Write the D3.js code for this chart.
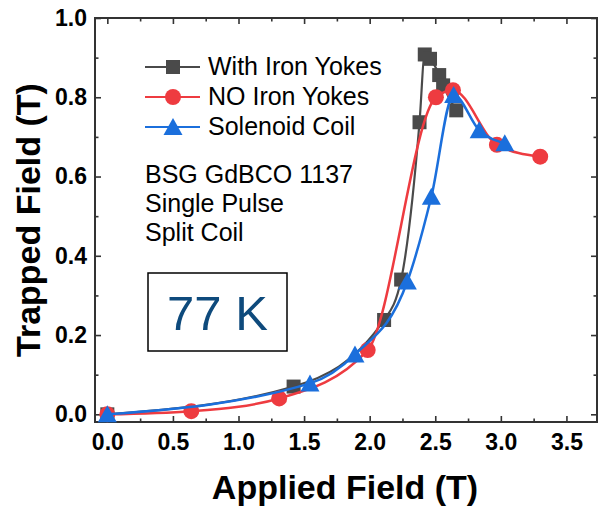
<!DOCTYPE html>
<html>
<head>
<meta charset="utf-8">
<script src="https://cdn.jsdelivr.net/npm/d3@7"></script>
<style>
  body { margin: 0; background: #fff; }
  svg { display: block; font-family: "Liberation Sans", Arial, sans-serif; }
</style>
</head>
<body>
<script>
// data
var withX = [0, 1.42, 2.11, 2.24, 2.38, 2.42, 2.46, 2.53, 2.56, 2.66];
var withY = [0, 0.07, 0.238, 0.34, 0.737, 0.908, 0.897, 0.856, 0.83, 0.767];

var noX = [0, 0.64, 1.31, 1.985, 2.505, 2.635, 2.97, 3.30];
var noY = [0, 0.008, 0.04, 0.162, 0.80, 0.818, 0.68, 0.65];

var solX = [0, 1.545, 1.888, 2.287, 2.47, 2.64, 2.835, 3.03];
var solY = [0, 0.078, 0.151, 0.335, 0.549, 0.806, 0.717, 0.684];

var seriesNames = ["With Iron Yokes", "NO Iron Yokes", "Solenoid Coil"];
var seriesColors = ["#4a4a4a", "#ee3b40", "#1b6fdc"];
var notes = ["BSG GdBCO 1137", "Single Pulse", "Split Coil"];

var xTicks = [0, 0.5, 1.0, 1.5, 2.0, 2.5, 3.0, 3.5];
var xMinor = [0.25, 0.75, 1.25, 1.75, 2.25, 2.75, 3.25];
var yTicks = [0, 0.2, 0.4, 0.6, 0.8, 1.0];
var yMinor = [0.1, 0.3, 0.5, 0.7, 0.9];

var W = 599, H = 508;
var pL = 95, pR = 597, pT = 18, pB = 422;
var FONT = '"Liberation Sans", Arial, sans-serif';

var svg = d3.select("body").append("svg")
  .attr("width", W)
  .attr("height", H);

var x = d3.scaleLinear().domain([-0.094, 3.733]).range([pL, pR]);
var y = d3.scaleLinear().domain([-0.0194, 1.0]).range([pB, pT]);

// axes, ticks point inward
function styleAxis(g) {
  g.select(".domain").remove();
  g.attr("font-family", FONT);
  g.selectAll(".tick line").attr("stroke", "#333").attr("stroke-width", 1.6);
  g.selectAll(".tick text")
    .attr("fill", "#000")
    .style("font-family", FONT)
    .style("font-size", "23px")
    .style("font-weight", "bold");
}

svg.append("g").attr("transform", "translate(0," + pB + ")")
  .call(d3.axisBottom(x).tickValues(xTicks).tickFormat(d3.format(".1f"))
    .tickSize(-6).tickPadding(12).tickSizeOuter(0))
  .call(styleAxis);
svg.append("g").attr("transform", "translate(0," + pB + ")")
  .call(d3.axisBottom(x).tickValues(xMinor).tickFormat("").tickSize(-3.5).tickSizeOuter(0))
  .call(styleAxis);
svg.append("g").attr("transform", "translate(0," + pT + ")")
  .call(d3.axisTop(x).tickValues(xTicks).tickFormat("").tickSize(-6).tickSizeOuter(0))
  .call(styleAxis);
svg.append("g").attr("transform", "translate(0," + pT + ")")
  .call(d3.axisTop(x).tickValues(xMinor).tickFormat("").tickSize(-3.5).tickSizeOuter(0))
  .call(styleAxis);

svg.append("g").attr("transform", "translate(" + pL + ",0)")
  .call(d3.axisLeft(y).tickValues(yTicks).tickFormat(d3.format(".1f"))
    .tickSize(-6).tickPadding(8).tickSizeOuter(0))
  .call(styleAxis);
svg.append("g").attr("transform", "translate(" + pL + ",0)")
  .call(d3.axisLeft(y).tickValues(yMinor).tickFormat("").tickSize(-3.5).tickSizeOuter(0))
  .call(styleAxis);
svg.append("g").attr("transform", "translate(" + pR + ",0)")
  .call(d3.axisRight(y).tickValues(yTicks).tickFormat("").tickSize(-6).tickSizeOuter(0))
  .call(styleAxis);
svg.append("g").attr("transform", "translate(" + pR + ",0)")
  .call(d3.axisRight(y).tickValues(yMinor).tickFormat("").tickSize(-3.5).tickSizeOuter(0))
  .call(styleAxis);

// frame
svg.append("rect")
  .attr("x", pL).attr("y", pT)
  .attr("width", pR - pL).attr("height", pB - pT)
  .attr("fill", "none").attr("stroke", "#333").attr("stroke-width", 2);

// axis titles
svg.append("text")
  .attr("x", (pL + pR) / 2 - 1).attr("y", 499)
  .attr("text-anchor", "middle")
  .style("font-size", "34px").style("font-weight", "bold")
  .text("Applied Field (T)");

svg.append("text")
  .attr("transform", "translate(40," + ((pT + pB) / 2) + ") rotate(-90)")
  .attr("text-anchor", "middle")
  .style("font-size", "34px").style("font-weight", "bold")
  .text("Trapped Field (T)");

// markers
function drawMarker(g, kind, color) {
  if (kind === 0) {
    g.append("rect").attr("x", -7).attr("y", -7).attr("width", 14).attr("height", 14)
      .attr("fill", color);
  } else if (kind === 1) {
    g.append("circle").attr("r", 8).attr("fill", color);
  } else {
    g.append("path").attr("d", "M0,-9L9.5,8L-9.5,8Z").attr("fill", color);
  }
}

var line = d3.line()
  .x(function(d) { return x(d[0]); })
  .y(function(d) { return y(d[1]); })
  .curve(d3.curveMonotoneX);

var allSeries = [
  d3.zip(withX, withY),
  d3.zip(noX, noY),
  d3.zip(solX, solY)
];

allSeries.forEach(function(pts, k) {
  var g = svg.append("g");
  g.append("path")
    .datum(pts)
    .attr("d", line)
    .attr("fill", "none")
    .attr("stroke", seriesColors[k])
    .attr("stroke-width", k === 0 ? 2.2 : 2.5);
  g.selectAll("g.pt")
    .data(pts)
    .enter().append("g")
    .attr("class", "pt")
    .attr("transform", function(d) { return "translate(" + x(d[0]) + "," + y(d[1]) + ")"; })
    .each(function() { drawMarker(d3.select(this), k, seriesColors[k]); });
});

// legend
seriesNames.forEach(function(name, k) {
  var cy = 67 + k * 30;
  var g = svg.append("g");
  g.append("line").attr("x1", 145).attr("x2", 200).attr("y1", cy).attr("y2", cy)
    .attr("stroke", seriesColors[k]).attr("stroke-width", 2.2);
  var m = g.append("g").attr("transform", "translate(173," + cy + ")");
  drawMarker(m, k, seriesColors[k]);
  g.append("text").attr("x", 208).attr("y", cy + 8)
    .style("font-size", "25px").attr("fill", "#000")
    .text(name);
});

// notes
notes.forEach(function(t, i) {
  svg.append("text").attr("x", 145).attr("y", 183 + i * 29)
    .style("font-size", "25px").attr("fill", "#000")
    .text(t);
});

// temperature box
svg.append("rect")
  .attr("x", 148).attr("y", 273).attr("width", 139).attr("height", 78)
  .attr("fill", "#fff").attr("stroke", "#000").attr("stroke-width", 1.5);
svg.append("text")
  .attr("x", 217.5).attr("y", 330)
  .attr("text-anchor", "middle")
  .style("font-size", "49px").attr("fill", "#0e4a7c")
  .text("77 K");
</script>
</body>
</html>
